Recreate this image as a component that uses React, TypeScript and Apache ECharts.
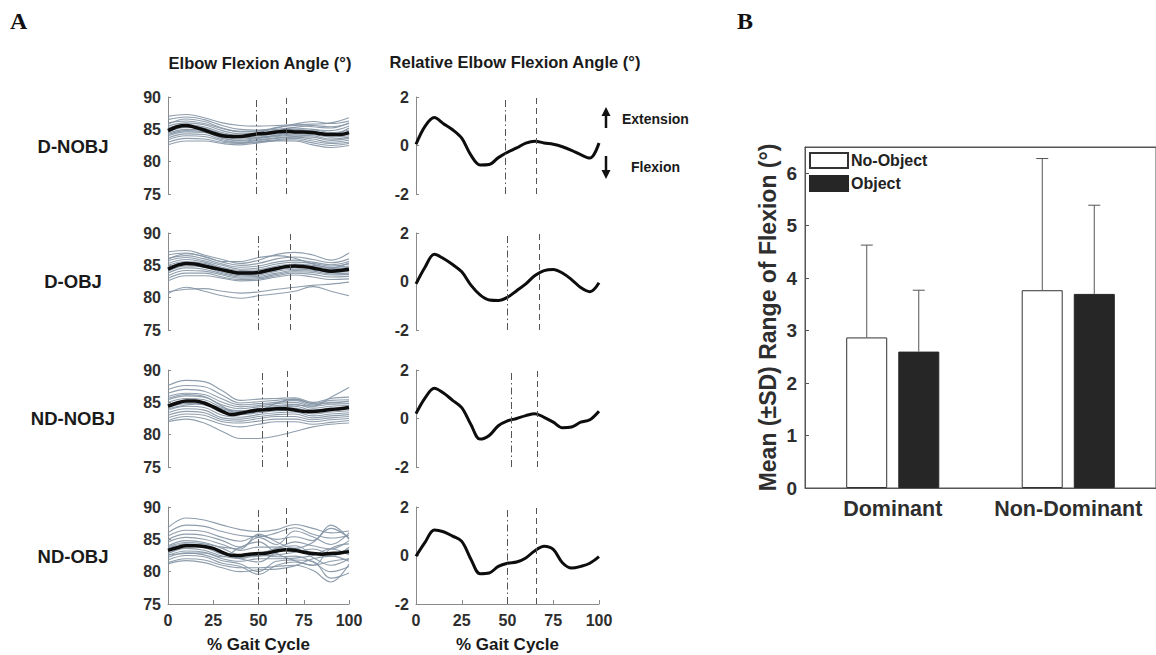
import React, { useEffect, useRef } from "react";
import * as echarts from "echarts";

// ---------- DATA ----------
const X10 = [0, 10, 20, 30, 40, 50, 60, 70, 80, 90, 100];
const X5 = [0, 5, 10, 15, 20, 25, 30, 35, 40, 45, 50, 55, 60, 65, 70, 75, 80, 85, 90, 95, 100];
const X_TICKS = [0, 25, 50, 75, 100];
const ROW_LABELS = ["D-NOBJ", "D-OBJ", "ND-NOBJ", "ND-OBJ"];
const ANGLE_TICKS = [75, 80, 85, 90];
const REL_TICKS = [-2, 0, 2];

// individual subject traces (sampled every 10% gait cycle)
const TRACES_D_NOBJ = [
  [87.0, 87.3, 86.8, 86.0, 85.6, 85.5, 85.6, 85.7, 85.8, 86.0, 86.8],
  [86.5, 86.9, 86.5, 85.6, 85.0, 84.9, 85.2, 85.8, 86.2, 85.9, 86.3],
  [86.0, 86.3, 85.9, 85.1, 84.7, 84.8, 85.0, 85.3, 85.6, 85.4, 85.9],
  [85.5, 86.0, 85.7, 84.8, 84.3, 84.4, 84.8, 85.2, 85.0, 84.8, 85.5],
  [85.2, 85.7, 85.4, 84.5, 84.0, 84.2, 84.6, 84.8, 84.9, 84.5, 84.9],
  [84.9, 85.5, 85.2, 84.3, 83.9, 84.0, 84.3, 84.5, 84.7, 84.3, 84.6],
  [84.6, 85.3, 85.1, 84.2, 83.7, 83.8, 84.1, 84.6, 84.4, 84.0, 84.3],
  [84.4, 85.0, 84.8, 83.9, 83.5, 83.7, 84.0, 84.3, 84.2, 83.8, 84.0],
  [84.2, 84.8, 84.6, 83.7, 83.3, 83.6, 83.9, 84.1, 84.0, 83.5, 83.8],
  [84.0, 84.6, 84.5, 83.6, 83.2, 83.4, 83.7, 83.9, 83.8, 83.3, 83.6],
  [83.7, 84.3, 84.2, 83.4, 83.0, 83.3, 83.6, 83.8, 83.5, 83.0, 83.3],
  [83.4, 84.0, 83.9, 83.2, 82.9, 83.1, 83.4, 83.6, 83.2, 82.8, 83.0],
  [83.0, 83.6, 83.5, 83.0, 82.8, 83.0, 83.3, 83.4, 82.9, 82.5, 82.8],
  [82.6, 83.2, 83.2, 82.8, 82.6, 82.9, 83.2, 83.2, 82.6, 82.2, 82.5],
  [85.8, 86.6, 86.2, 85.2, 84.6, 84.6, 85.3, 85.6, 85.4, 85.2, 86.0],
  [84.8, 85.4, 85.0, 84.0, 83.8, 84.3, 84.7, 85.0, 84.7, 84.2, 85.2],
];
const TRACES_D_OBJ = [
  [87.1, 87.3, 86.6, 85.9, 85.3, 85.8, 86.7, 87.0, 86.6, 85.8, 86.9],
  [86.6, 86.9, 86.3, 85.5, 85.0, 85.3, 86.0, 86.3, 85.9, 85.4, 86.0],
  [86.1, 86.5, 86.0, 85.2, 84.7, 84.9, 85.5, 85.8, 85.5, 85.1, 85.6],
  [85.7, 86.2, 85.7, 85.0, 84.4, 84.6, 85.2, 85.5, 85.3, 84.9, 85.2],
  [85.3, 85.9, 85.5, 84.7, 84.2, 84.3, 84.9, 85.2, 85.0, 84.7, 84.9],
  [85.0, 85.6, 85.3, 84.5, 84.0, 84.1, 84.7, 85.0, 84.8, 84.5, 84.7],
  [84.7, 85.4, 85.1, 84.3, 83.8, 83.9, 84.5, 84.8, 84.6, 84.3, 84.5],
  [84.4, 85.2, 84.9, 84.1, 83.6, 83.7, 84.3, 84.6, 84.5, 84.1, 84.3],
  [84.1, 84.9, 84.7, 83.9, 83.4, 83.5, 84.1, 84.4, 84.3, 83.9, 84.1],
  [83.8, 84.6, 84.4, 83.7, 83.2, 83.3, 83.8, 84.2, 84.1, 83.7, 83.8],
  [83.4, 84.2, 84.1, 83.5, 83.0, 83.1, 83.6, 84.0, 83.9, 83.5, 83.6],
  [83.0, 83.8, 83.8, 83.2, 82.8, 82.9, 83.4, 83.8, 83.6, 83.2, 83.3],
  [82.6, 83.4, 83.4, 83.0, 82.6, 82.7, 83.2, 83.5, 83.2, 82.8, 82.9],
  [85.9, 86.8, 86.4, 85.6, 85.6, 86.2, 86.5, 86.1, 85.2, 84.6, 85.4],
  [80.6, 81.6, 81.0, 80.3, 79.9, 80.3, 80.6, 81.0, 81.7, 81.0, 80.3],
  [80.9, 81.3, 81.4, 81.0, 80.7, 80.9, 81.3, 81.6, 81.9, 82.1, 82.4],
];
const TRACES_ND_NOBJ = [
  [87.6, 88.4, 88.2, 86.8, 85.3, 85.5, 85.6, 85.7, 85.0, 85.6, 85.8],
  [87.0, 87.6, 87.4, 86.1, 84.9, 85.1, 85.3, 85.5, 84.8, 85.3, 85.4],
  [86.4, 87.0, 86.7, 85.5, 84.6, 84.8, 85.0, 85.3, 84.6, 85.0, 85.1],
  [85.9, 86.4, 86.2, 85.0, 84.3, 84.5, 84.8, 85.0, 84.4, 84.7, 84.8],
  [85.4, 86.0, 85.8, 84.6, 84.0, 84.3, 84.5, 84.7, 84.1, 84.4, 84.5],
  [85.0, 85.6, 85.4, 84.2, 83.7, 84.0, 84.2, 84.4, 83.8, 84.1, 84.2],
  [84.6, 85.2, 85.0, 83.8, 83.4, 83.7, 84.0, 84.1, 83.5, 83.8, 84.0],
  [84.2, 84.8, 84.6, 83.4, 83.1, 83.4, 83.7, 83.8, 83.2, 83.5, 83.7],
  [83.8, 84.4, 84.2, 83.0, 82.7, 83.1, 83.4, 83.5, 82.9, 83.2, 83.4],
  [83.4, 84.0, 83.8, 82.6, 82.4, 82.8, 83.1, 83.2, 82.6, 82.9, 83.1],
  [83.0, 83.6, 83.4, 82.3, 82.1, 82.5, 82.8, 82.8, 82.3, 82.6, 82.8],
  [82.6, 83.2, 83.0, 82.0, 81.8, 82.1, 82.4, 82.4, 82.0, 82.3, 82.5],
  [82.2, 82.8, 82.5, 81.6, 81.2, 81.6, 82.0, 82.0, 81.6, 81.9, 82.2],
  [82.0, 82.4, 81.8, 80.5, 79.4, 79.4, 79.8, 80.5, 81.2, 81.6, 81.8],
  [84.0, 84.6, 84.8, 84.0, 83.6, 84.0, 84.3, 84.6, 84.4, 85.8, 87.3],
  [85.6, 86.2, 85.9, 84.4, 83.2, 83.6, 84.9, 85.5, 84.9, 84.9, 85.2],
];
const TRACES_ND_OBJ = [
  [86.8, 88.3, 88.0, 87.2, 86.5, 86.2, 86.5, 87.3, 86.7, 86.0, 86.3],
  [86.0, 87.2, 87.0, 86.2, 85.6, 85.4, 86.0, 86.8, 85.8, 85.2, 85.6],
  [85.5, 86.4, 86.2, 85.3, 84.7, 85.6, 85.0, 85.4, 84.8, 87.2, 85.0],
  [85.0, 85.8, 85.6, 84.8, 83.8, 85.3, 84.2, 86.3, 85.4, 84.2, 86.0],
  [84.6, 85.3, 85.0, 84.2, 83.3, 83.8, 83.8, 84.6, 84.0, 83.5, 84.8],
  [84.0, 84.8, 84.5, 83.6, 82.6, 82.8, 83.6, 84.0, 82.8, 82.4, 83.8],
  [83.6, 84.3, 84.0, 83.0, 82.0, 81.5, 83.0, 83.6, 82.2, 81.0, 82.0],
  [83.2, 84.0, 83.7, 82.7, 82.2, 82.4, 82.6, 83.0, 83.5, 82.8, 83.5],
  [82.8, 83.6, 83.3, 82.4, 82.0, 82.6, 82.3, 82.4, 81.5, 80.0, 80.8],
  [82.5, 83.2, 83.0, 82.0, 81.6, 82.0, 82.0, 82.1, 82.5, 83.5, 82.6],
  [82.2, 82.9, 82.6, 81.7, 81.2, 80.0, 81.6, 81.8, 81.6, 79.0, 79.8],
  [81.8, 82.5, 82.3, 81.3, 80.8, 79.6, 81.0, 81.5, 81.0, 81.6, 82.0],
  [81.4, 82.0, 81.8, 81.0, 80.6, 80.6, 80.8, 81.0, 80.2, 78.4, 81.2],
  [81.2, 81.7, 81.4, 80.6, 80.0, 80.3, 80.4, 80.9, 82.0, 82.4, 81.6],
  [83.8, 84.5, 84.3, 83.8, 83.5, 85.8, 84.6, 83.6, 84.5, 86.7, 85.2],
  [82.6, 82.8, 82.9, 82.3, 83.8, 84.6, 82.8, 81.7, 81.0, 83.6, 84.3],
];

// group means (sampled every 5% gait cycle)
const MEAN_D_NOBJ = [84.8, 85.4, 85.6, 85.3, 84.9, 84.4, 84.0, 83.9, 83.9, 84.1, 84.3, 84.4, 84.6, 84.7, 84.6, 84.6, 84.5, 84.3, 84.2, 84.2, 84.5];
const MEAN_D_OBJ = [84.4, 85.0, 85.3, 85.2, 84.9, 84.6, 84.3, 84.0, 83.8, 83.8, 83.9, 84.2, 84.5, 84.8, 84.9, 84.8, 84.6, 84.3, 84.1, 84.2, 84.4];
const MEAN_ND_NOBJ = [84.4, 84.9, 85.2, 85.2, 84.9, 84.3, 83.6, 83.1, 83.3, 83.6, 83.8, 83.9, 84.0, 84.0, 83.8, 83.6, 83.6, 83.7, 83.9, 84.0, 84.2];
const MEAN_ND_OBJ = [83.3, 83.7, 84.0, 84.0, 83.9, 83.6, 83.0, 82.5, 82.5, 82.7, 82.8, 82.9, 83.2, 83.4, 83.3, 83.0, 82.8, 82.7, 82.8, 82.9, 83.1];

// relative elbow flexion angle (sampled every 5% gait cycle)
const REL_D_NOBJ = [0.05, 0.8, 1.15, 0.9, 0.65, 0.3, -0.4, -0.8, -0.78, -0.5, -0.28, -0.1, 0.1, 0.18, 0.1, 0.05, -0.05, -0.2, -0.38, -0.52, 0.1];
const REL_D_OBJ = [-0.1, 0.6, 1.12, 0.95, 0.7, 0.4, -0.15, -0.55, -0.76, -0.78, -0.65, -0.38, -0.1, 0.25, 0.45, 0.5, 0.35, 0.08, -0.25, -0.42, -0.05];
const REL_ND_NOBJ = [0.2, 0.85, 1.25, 1.05, 0.75, 0.45, -0.25, -0.85, -0.7, -0.3, -0.1, 0.0, 0.12, 0.2, 0.05, -0.15, -0.38, -0.35, -0.15, -0.05, 0.3];
const REL_ND_OBJ = [-0.03, 0.55, 1.05, 0.98, 0.8, 0.58, -0.15, -0.75, -0.72, -0.45, -0.32, -0.27, -0.1, 0.2, 0.38, 0.25, -0.3, -0.52, -0.45, -0.32, -0.05];

// gait events (% gait cycle)
const EVENT_DASHDOT = [49, 50, 52, 50];
const EVENT_DASHED = [65.5, 67.5, 66, 65.5];

// panel B
const GROUPS = ["Dominant", "Non-Dominant"];
const NO_OBJ_MEAN = [2.87, 3.77];
const NO_OBJ_SD = [1.76, 2.51];
const OBJ_MEAN = [2.6, 3.7];
const OBJ_SD = [1.17, 1.69];
const B_TICKS = [0, 1, 2, 3, 4, 5, 6];

const TRACES = [TRACES_D_NOBJ, TRACES_D_OBJ, TRACES_ND_NOBJ, TRACES_ND_OBJ];
const MEANS = [MEAN_D_NOBJ, MEAN_D_OBJ, MEAN_ND_NOBJ, MEAN_ND_OBJ];
const RELS = [REL_D_NOBJ, REL_D_OBJ, REL_ND_NOBJ, REL_ND_OBJ];

// ---------- LAYOUT / STYLE ----------
const FONT = "'Liberation Sans', Arial, Helvetica, sans-serif";
const SERIF = "'Liberation Serif', 'Times New Roman', serif";
const TICK_COLOR = "#2e2e2e";
const AXIS_COLOR = "#8a8a8a";
const ROW_TOP = [97, 233, 370, 507];
const ROW_H = 97;
const COL_LEFT = [168, 416];
const COL_W = [181, 183];
const ROW_LABEL_Y = [146, 281, 418, 556];

export default function App() {
  const ref = useRef<HTMLDivElement>(null);

  useEffect(() => {
    if (!ref.current) return;
    const chart = echarts.init(ref.current, undefined, { renderer: "svg" });

    const grids: any[] = [];
    const xAxes: any[] = [];
    const yAxes: any[] = [];
    const series: any[] = [];

    const eventMarks = (r: number) => ({
      silent: true,
      symbol: ["none", "none"],
      label: { show: false },
      emphasis: { disabled: true },
      data: [
        { xAxis: EVENT_DASHDOT[r], lineStyle: { type: [7, 3, 1.5, 3], color: "#555", width: 1 } },
        { xAxis: EVENT_DASHED[r], lineStyle: { type: [6, 4], color: "#555", width: 1 } },
      ],
    });

    for (let r = 0; r < 4; r++) {
      const isBottom = r === 3;
      for (let c = 0; c < 2; c++) {
        const idx = r * 2 + c;
        grids.push({ left: COL_LEFT[c], top: ROW_TOP[r], width: COL_W[c], height: ROW_H });
        xAxes.push({
          gridIndex: idx,
          type: "value",
          min: 0,
          max: 100,
          interval: 25,
          axisLine: { show: isBottom, onZero: false, lineStyle: { color: AXIS_COLOR } },
          axisTick: { show: isBottom, inside: true, length: 4, lineStyle: { color: AXIS_COLOR } },
          axisLabel: {
            show: isBottom,
            margin: 8,
            fontSize: 16,
            fontWeight: "bold",
            color: TICK_COLOR,
            fontFamily: FONT,
            formatter: (v: number) => (X_TICKS.includes(v) ? String(v) : ""),
          },
          splitLine: { show: false },
          name: isBottom ? "% Gait Cycle" : "",
          nameLocation: "middle",
          nameGap: 32,
          nameTextStyle: { fontSize: 17, fontWeight: "bold", color: "#1a1a1a", fontFamily: FONT },
        });
        const ticks = c === 0 ? ANGLE_TICKS : REL_TICKS;
        yAxes.push({
          gridIndex: idx,
          type: "value",
          min: ticks[0],
          max: ticks[ticks.length - 1],
          interval: ticks[1] - ticks[0],
          axisLine: { show: true, onZero: false, lineStyle: { color: AXIS_COLOR } },
          axisTick: { show: true, inside: true, length: 3, lineStyle: { color: AXIS_COLOR } },
          axisLabel: { margin: 7, fontSize: 16, fontWeight: "bold", color: TICK_COLOR, fontFamily: FONT },
          splitLine: { show: false },
        });
      }
      // left column: traces + mean
      const li = r * 2;
      TRACES[r].forEach((t) => {
        series.push({
          type: "line",
          xAxisIndex: li,
          yAxisIndex: li,
          data: t.map((v, i) => [X10[i], v]),
          smooth: 0.4,
          showSymbol: false,
          silent: true,
          lineStyle: { color: "#8393a4", width: 1.1, opacity: 0.9 },
          z: 2,
        });
      });
      series.push({
        type: "line",
        xAxisIndex: li,
        yAxisIndex: li,
        data: MEANS[r].map((v, i) => [X5[i], v]),
        smooth: 0.35,
        showSymbol: false,
        silent: true,
        lineStyle: { color: "#0d0d0d", width: 3.5 },
        z: 4,
        markLine: eventMarks(r),
      });
      // right column: relative angle
      const ri = r * 2 + 1;
      series.push({
        type: "line",
        xAxisIndex: ri,
        yAxisIndex: ri,
        data: RELS[r].map((v, i) => [X5[i], v]),
        smooth: 0.35,
        showSymbol: false,
        silent: true,
        lineStyle: { color: "#0d0d0d", width: 3 },
        z: 4,
        markLine: eventMarks(r),
      });
    }

    // ---------- Panel B ----------
    const B = 8;
    grids.push({
      left: 805,
      top: 147,
      width: 360,
      height: 341,
      show: true,
      borderColor: "#555",
      borderWidth: 1,
      backgroundColor: "#fff",
    });
    xAxes.push({
      gridIndex: B,
      type: "category",
      data: GROUPS,
      axisLine: { lineStyle: { color: "#555" } },
      axisTick: { alignWithLabel: true, inside: true, length: 4, lineStyle: { color: "#555" } },
      axisLabel: {
        interval: 0,
        hideOverlap: false,
        margin: 10,
        fontSize: 21.5,
        fontWeight: "bold",
        color: "#2e2e2e",
        fontFamily: FONT,
      },
    });
    xAxes.push({
      gridIndex: B,
      type: "category",
      position: "top",
      data: GROUPS,
      axisLine: { lineStyle: { color: "#555" } },
      axisTick: { alignWithLabel: true, inside: true, length: 4, lineStyle: { color: "#555" } },
      axisLabel: { show: false },
    });
    yAxes.push({
      gridIndex: B,
      type: "value",
      min: 0,
      max: 6.5,
      interval: 1,
      axisLine: { show: true, lineStyle: { color: "#555" } },
      axisTick: { show: true, inside: true, length: 4, lineStyle: { color: "#555" } },
      axisLabel: {
        margin: 8,
        fontSize: 19,
        fontWeight: "bold",
        color: "#2e2e2e",
        fontFamily: FONT,
        formatter: (v: number) => (B_TICKS.includes(v) ? String(v) : ""),
      },
      splitLine: { show: false },
      name: "Mean (\u00B1SD) Range of Flexion (\u00B0)",
      nameLocation: "middle",
      nameRotate: 90,
      nameGap: 26,
      nameTextStyle: { fontSize: 23, fontWeight: "bold", color: "#2e2e2e", fontFamily: FONT },
    });

    series.push({
      name: "No-Object",
      type: "bar",
      xAxisIndex: B,
      yAxisIndex: B,
      data: NO_OBJ_MEAN,
      barWidth: 41,
      barGap: "27%",
      itemStyle: { color: "#ffffff", borderColor: "#333", borderWidth: 1 },
      silent: true,
      z: 3,
    });
    series.push({
      name: "Object",
      type: "bar",
      xAxisIndex: B,
      yAxisIndex: B,
      data: OBJ_MEAN,
      barWidth: 41,
      itemStyle: { color: "#262626", borderColor: "#262626", borderWidth: 1 },
      silent: true,
      z: 3,
    });
    const errSeries = (means: number[], sds: number[], offset: number) => ({
      type: "custom",
      xAxisIndex: B,
      yAxisIndex: B,
      silent: true,
      z: 5,
      data: means.map((m, i) => [i, m, m + sds[i]]),
      renderItem: (_p: any, api: any) => {
        const base = api.coord([api.value(0), api.value(1)]);
        const top = api.coord([api.value(0), api.value(2)]);
        const x = base[0] + offset;
        const st = { stroke: "#555", lineWidth: 1 };
        return {
          type: "group",
          children: [
            { type: "line", shape: { x1: x, y1: base[1], x2: x, y2: top[1] }, style: st },
            { type: "line", shape: { x1: x - 6, y1: top[1], x2: x + 6, y2: top[1] }, style: st },
          ],
        };
      },
    });
    series.push(errSeries(NO_OBJ_MEAN, NO_OBJ_SD, -26));
    series.push(errSeries(OBJ_MEAN, OBJ_SD, 26));

    // ---------- Graphic texts ----------
    const txt = (text: string, x: number, y: number, size: number, align = "center", family = FONT, color = "#1a1a1a") => ({
      type: "text",
      x,
      y,
      silent: true,
      style: { text, fontSize: size, fontWeight: "bold", fontFamily: family, fill: color, align, verticalAlign: "middle" },
    });
    const graphic: any[] = [
      txt("A", 10, 21, 24, "left", SERIF, "#111"),
      txt("B", 737, 21, 24, "left", SERIF, "#111"),
      txt("Elbow Flexion Angle (\u00B0)", 260, 63, 16.5),
      txt("Relative Elbow Flexion Angle (\u00B0)", 515, 62, 16.5),
      txt("Extension", 622, 119, 14, "left"),
      txt("Flexion", 631, 167, 14, "left"),
      ...ROW_LABELS.map((l, i) => txt(l, 73, ROW_LABEL_Y[i], 18.5)),
      { type: "line", silent: true, shape: { x1: 606, y1: 114, x2: 606, y2: 128 }, style: { stroke: "#111", lineWidth: 2.5 } },
      { type: "polygon", silent: true, shape: { points: [[606, 107], [601.5, 116], [610.5, 116]] }, style: { fill: "#111" } },
      { type: "line", silent: true, shape: { x1: 606, y1: 156, x2: 606, y2: 171 }, style: { stroke: "#111", lineWidth: 2.5 } },
      { type: "polygon", silent: true, shape: { points: [[606, 179], [601.5, 170], [610.5, 170]] }, style: { fill: "#111" } },
    ];

    chart.setOption({
      animation: false,
      backgroundColor: "#ffffff",
      textStyle: { fontFamily: FONT },
      grid: grids,
      xAxis: xAxes,
      yAxis: yAxes,
      series,
      graphic,
      legend: {
        data: ["No-Object", "Object"],
        orient: "vertical",
        left: 809,
        top: 152,
        itemWidth: 38,
        itemHeight: 15,
        itemGap: 6,
        padding: 0,
        icon: "rect",
        selectedMode: false,
        textStyle: { fontSize: 16, fontWeight: "bold", color: "#222", fontFamily: FONT, padding: [0, 0, 0, -2] },
      },
    });

    return () => chart.dispose();
  }, []);

  return (
    <div
      ref={ref}
      style={{ position: "absolute", left: 0, top: 0, width: 1156, height: 655, background: "#fff" }}
    />
  );
}
